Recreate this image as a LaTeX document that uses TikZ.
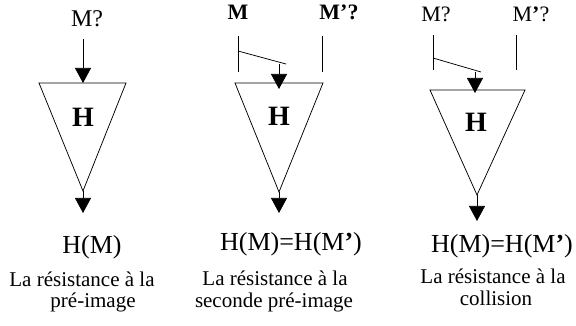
\documentclass[tikz,border=0pt]{standalone}
\usepackage{fontspec}
\setmainfont{Liberation Serif}
\usetikzlibrary{arrows.meta}

\begin{document}
\begin{tikzpicture}[x=1pt,y=-1pt,line width=0.75pt,
  head/.style={-{Triangle[length=15pt,width=16pt]}},
  lbl/.style={anchor=base,inner sep=0pt,font=\fontsize{22}{24}\selectfont},
  outtext/.style={anchor=base,inner sep=0pt,font=\fontsize{26}{28}\selectfont},
  caption/.style={anchor=base,inner sep=0pt,font=\fontsize{21}{21}\selectfont},
  hlet/.style={inner sep=0pt,font=\fontsize{28}{30}\selectfont\bfseries}]

% ------------------------------------------------------------------
% Page frame: 576 x 326, y grows downwards.
% ------------------------------------------------------------------
\useasboundingbox (0,0) rectangle (576,326);

% The hash function is drawn as: \hashfunc{name}{left x}{right x}{top y}{apex x}{apex y}
\newcommand{\hashfunc}[6]{%
  \coordinate (#1l) at (#2,#4);
  \coordinate (#1r) at (#3,#4);
  \coordinate (#1b) at (#5,#6);
  \draw (#1l) -- (#1r) -- (#1b) -- cycle;
}

% Panel 1: pre-image.
\hashfunc{t1}{39}{126}{83}{83}{191}
\node[hlet] (h1) at (83,117) {H};
\node[lbl,font=\fontsize{24}{26}\selectfont] (m1) at (87,27) {M?};
\coordinate (m1s) at (83,39);
\coordinate (m1e) at (83,83);
\draw[head] (m1s) -- (m1e);
\coordinate (o1) at (83,213);
\draw[head] (t1b) -- (o1);
\node[outtext] (hm1) at (92,253) {H(M)};
\node[caption] (c1a) at (82,286) {La résistance à la};
\node[caption] (c1b) at (93,307) {pré-image};

% Panel 2: second pre-image.
\hashfunc{t2}{235}{323}{83}{279}{192}
\node[hlet] (h2) at (279,116) {H};
\node[lbl] (m2) at (238,20) {\textbf{M}};
\node[lbl] (m2p) at (339,20) {\textbf{M’?}};
\coordinate (v2a) at (238,36);
\coordinate (v2b) at (238,72);
\coordinate (v2c) at (322,36);
\coordinate (v2d) at (322,72);
\draw (v2a) -- (v2b);
\draw (v2c) -- (v2d);
\coordinate (s2a) at (238,51);
\coordinate (s2b) at (286,64);
\draw (s2a) -- (s2b);
\coordinate (a2s) at (279,64);
\coordinate (a2e) at (279,89);
\draw[head] (a2s) -- (a2e);
\coordinate (o2) at (279,213);
\draw[head] (t2b) -- (o2);
\node[outtext] (hm2) at (291,251) {H(M)=H(M\textbf{’})};
\node[caption] (c2a) at (275,285) {La résistance à la};
\node[caption] (c2b) at (274,307) {seconde pré-image};

% Panel 3: collision.
\hashfunc{t3}{430}{525}{90}{477}{195}
\node[hlet] (h3) at (476,122) {H};
\node[lbl] (m3) at (436,22) {M?};
\node[lbl] (m3p) at (531,22) {M\textbf{’}?};
\coordinate (v3a) at (433,35);
\coordinate (v3b) at (433,70);
\coordinate (v3c) at (516,35);
\coordinate (v3d) at (516,70);
\draw (v3a) -- (v3b);
\draw (v3c) -- (v3d);
\coordinate (s3a) at (433,58);
\coordinate (s3b) at (481,72);
\draw (s3a) -- (s3b);
\coordinate (a3s) at (475,72);
\coordinate (a3e) at (475,93);
\draw[head] (a3s) -- (a3e);
\coordinate (o3) at (477,221);
\draw[head] (t3b) -- (o3);
\node[outtext] (hm3) at (502,252) {H(M)=H(M\textbf{’})};
\node[caption] (c3a) at (493,283) {La résistance à la};
\node[caption] (c3b) at (496,305) {collision};

\end{tikzpicture}
\end{document}
